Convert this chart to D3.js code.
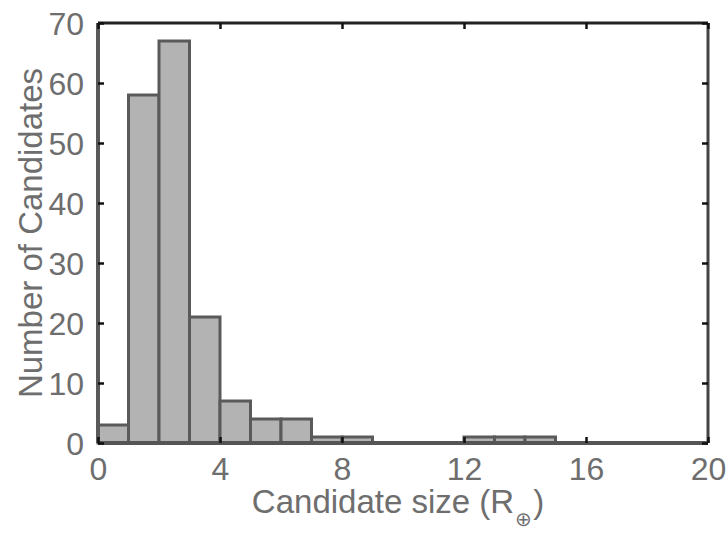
<!DOCTYPE html>
<html>
<head>
<meta charset="utf-8">
<script src="https://cdn.jsdelivr.net/npm/d3@7"></script>
<style>
  html, body { margin: 0; padding: 0; background: #fff; }
  svg { display: block; }
  text { font-family: "Liberation Sans", Arial, sans-serif; fill: #6e6e6e; }
</style>
</head>
<body>
<svg id="chart" width="726" height="537"></svg>
<script>
// Histogram bins: lower edge of each unit-wide size bin (Earth radii)
const binStarts = [0, 1, 2, 3, 4, 5, 6, 7, 8, 9, 10, 11, 12, 13, 14, 15, 16, 17, 18, 19];
// Number of candidates in each bin
const counts = [3, 58, 67, 21, 7, 4, 4, 1, 1, 0, 0, 0, 1, 1, 1, 0, 0, 0, 0, 0];
// Axis ticks
const xTicks = [0, 4, 8, 12, 16, 20];
const yTicks = [0, 10, 20, 30, 40, 50, 60, 70];
const xTitle = "Candidate size (R";
const xTitleSub = "⊕";
const yTitle = "Number of Candidates";

const svg = d3.select("#chart");
const m = { left: 98, right: 708, top: 23, bottom: 443 };

const x = d3.scaleLinear().domain([0, 20]).range([m.left, m.right]);
const y = d3.scaleLinear().domain([0, 70]).range([m.bottom, m.top]);

// Bars
svg.append("g")
  .selectAll("rect")
  .data(binStarts.map((s, i) => ({ s, v: counts[i] })))
  .join("rect")
  .attr("x", d => x(d.s))
  .attr("width", d => x(d.s + 1) - x(d.s))
  .attr("y", d => y(d.v))
  .attr("height", d => y(0) - y(d.v))
  .attr("fill", "#b3b3b3")
  .attr("stroke", "#5a5a5a")
  .attr("stroke-width", 3);

// Box frame
const frame = svg.append("g").attr("fill", "none");
frame.append("line").attr("x1", m.left).attr("x2", m.right).attr("y1", m.top).attr("y2", m.top)
  .attr("stroke", "#222").attr("stroke-width", 3);
frame.append("line").attr("x1", m.right).attr("x2", m.right).attr("y1", m.top).attr("y2", m.bottom)
  .attr("stroke", "#444").attr("stroke-width", 3);
frame.append("line").attr("x1", m.left).attr("x2", m.left).attr("y1", m.top).attr("y2", m.bottom)
  .attr("stroke", "#5a5a5a").attr("stroke-width", 4);
frame.append("line").attr("x1", m.left).attr("x2", m.right).attr("y1", m.bottom).attr("y2", m.bottom)
  .attr("stroke", "#555").attr("stroke-width", 4);

// Inward ticks and labels
const tickLen = 6;
const ax = svg.append("g");
const xAxisBottom = d3.axisBottom(x).tickValues(xTicks).tickSizeInner(-tickLen).tickSizeOuter(0).tickPadding(13);
const xAxisTop = d3.axisTop(x).tickValues(xTicks).tickSizeInner(-tickLen).tickSizeOuter(0).tickFormat("");
const yAxisLeft = d3.axisLeft(y).tickValues(yTicks).tickSizeInner(-tickLen).tickSizeOuter(0).tickPadding(14);
const yAxisRight = d3.axisRight(y).tickValues(yTicks).tickSizeInner(-tickLen).tickSizeOuter(0).tickFormat("");

function style(g) {
  g.select(".domain").remove();
  g.selectAll(".tick line").attr("stroke", "#111").attr("stroke-width", 2.5);
  g.selectAll(".tick text").attr("font-size", 32).attr("fill", "#6e6e6e")
    .style("font-family", '"Liberation Sans", Arial, sans-serif');
}
ax.append("g").attr("transform", `translate(0,${m.bottom})`).call(xAxisBottom).call(style)
  .selectAll(".tick text").attr("dy", "0.74em");
ax.append("g").attr("transform", `translate(0,${m.top})`).call(xAxisTop).call(style);
ax.append("g").attr("transform", `translate(${m.left},0)`).call(yAxisLeft).call(style)
  .selectAll(".tick text").attr("dy", "0.36em");
ax.append("g").attr("transform", `translate(${m.right},0)`).call(yAxisRight).call(style);

// Axis titles
const xt = svg.append("text")
  .attr("x", (m.left + m.right) / 2 - 5)
  .attr("y", 513)
  .attr("text-anchor", "middle")
  .attr("font-size", 33);
xt.append("tspan").text(xTitle);
xt.append("tspan").attr("font-size", 20).attr("dy", 13).attr("dx", 1).text(xTitleSub);
xt.append("tspan").attr("dy", -13).attr("dx", 1).text(")");

svg.append("text")
  .attr("transform", `translate(42,${(m.top + m.bottom) / 2}) rotate(-90)`)
  .attr("text-anchor", "middle")
  .attr("font-size", 33)
  .text(yTitle);
</script>
</body>
</html>
